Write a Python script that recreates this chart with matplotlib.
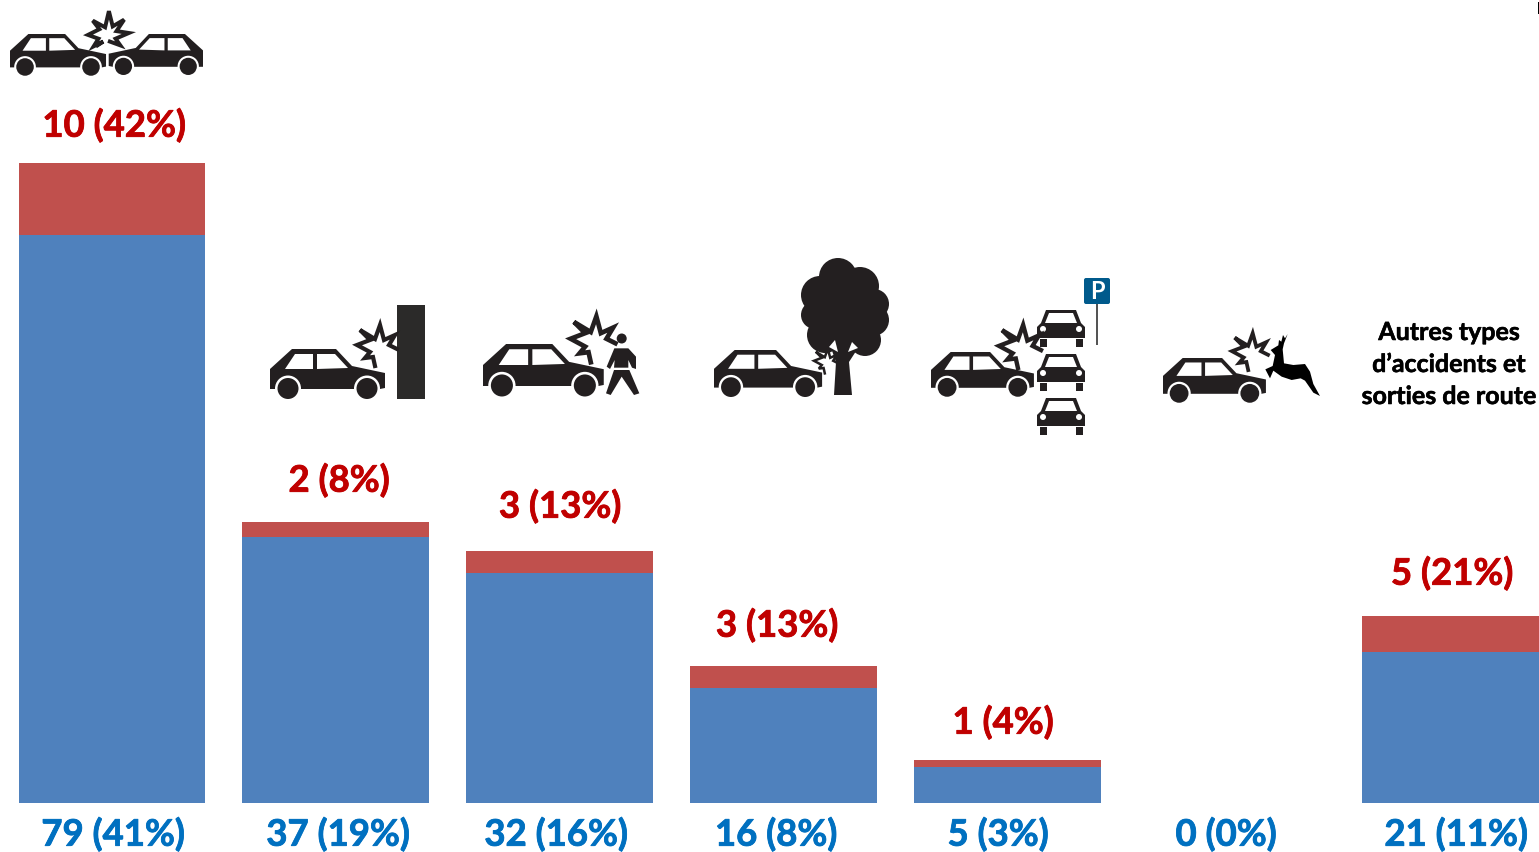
import matplotlib
matplotlib.use("Agg")
import matplotlib.pyplot as plt
import matplotlib.patheffects as pe
from matplotlib.patches import Polygon, Circle, Rectangle, FancyBboxPatch

# valeurs
categories = ["front", "obstacle", "pieton", "arbre", "parking", "animal", "autres"]
bleu = [79, 37, 32, 16, 5, 0, 21]
bleu_pct = [41, 19, 16, 8, 3, 0, 11]
rouge = [10, 2, 3, 3, 1, 0, 5]
rouge_pct = [42, 8, 13, 13, 4, 0, 21]
autres_lignes = ["Autres types", "d’accidents et", "sorties de route"]

NOIR = "#231f20"
plt.rcParams["font.family"] = ["Lato", "DejaVu Sans"]

fig = plt.figure(figsize=(15.39, 8.52), dpi=100)
ax = fig.add_axes([0, 0, 1, 1])
x = list(range(len(categories)))
ax.bar(x, bleu, width=0.835, color="#4F81BD")
ax.bar(x, rouge, width=0.835, bottom=bleu, color="#C0504D")
ax.set_xlim(-0.5002, 6.373)
ax.set_ylim(-6.86, 111.64)
ax.axis("off")

# calque en pixels pour les pictogrammes et les textes
px = fig.add_axes([0, 0, 1, 1])
px.set_xlim(0, 1539)
px.set_ylim(852, 0)
px.axis("off")
px.patch.set_alpha(0)


def car(x0, y0, s=1.0, flip=False):
    def t(pts):
        if flip:
            return [(x0 - a * s, y0 + b * s) for a, b in pts]
        return [(x0 + a * s, y0 + b * s) for a, b in pts]
    body = [(0, 20), (22, 0), (66, 0), (82, 17), (115, 24), (115, 39), (110, 40), (0, 40)]
    px.add_patch(Polygon(t(body), color=NOIR, lw=0))
    px.add_patch(Polygon(t([(15, 20), (25, 5), (43, 5), (43, 20)]), color="white", lw=0))
    px.add_patch(Polygon(t([(47, 5), (65, 5), (78, 19), (47, 20)]), color="white", lw=0))
    for cx in (18, 97):
        c = t([(cx, 39.5)])[0]
        px.add_patch(Circle(c, 13 * s, color="white", lw=0))
        px.add_patch(Circle(c, 10.5 * s, color=NOIR, lw=0))


def burst(cx, cy, s=1.0, pts=None):
    if pts is None:
        pts = [(-2, 19), (-4, 10), (-12, 11), (-7, 5), (-20, -2), (-7, -7), (-17, -17),
               (-2, -8), (3, -22), (7, -7), (18, -12), (12, -2), (20, 2)]
    xs = [cx + a * s for a, b in pts]
    ys = [cy + b * s for a, b in pts]
    px.plot(xs, ys, color=NOIR, lw=3.0 * s, solid_joinstyle="miter")


def zoomed(pts, ox, oy):
    return [(ox + a / 3, oy + b / 3) for a, b in pts]


def front_car(cx, top):
    body = [(-15, 0), (15, 0), (20, 13), (24, 17), (24, 28), (-24, 28), (-24, 17), (-20, 13)]
    px.add_patch(Polygon([(cx + a, top + b) for a, b in body], color=NOIR, lw=0))
    win = [(-12, 3), (12, 3), (16, 13), (-16, 13)]
    px.add_patch(Polygon([(cx + a, top + b) for a, b in win], color="white", lw=0))
    for d in (-18, 18):
        px.add_patch(Circle((cx + d, top + 19), 3, color="white", lw=0))
        px.add_patch(Rectangle((cx + d - 3.5, top + 29), 7, 8, color=NOIR, lw=0))


# choc frontal
car(10, 34, 0.835)
car(203, 34, 0.82, flip=True)
burst(107, 33, 0.95, [(-10, 13), (-4, 9), (-14, 14), (-9, 6), (-20, 2), (-8, -4), (-15, -13),
                      (-2, -6), (2, -23), (6, -7), (18, -14), (10, -2), (23, 0), (9, 6),
                      (14, 13), (3, 9)])

# obstacle
car(270, 349)
px.add_patch(Rectangle((397, 305), 28, 94, color="#2b2a29", lw=0))
burst(377, 347)

# pieton
car(483, 344, 1.05)
burst(593, 341, 1.12)
px.add_patch(Circle((621.7, 338.5), 5, color=NOIR, lw=0))
px.add_patch(Polygon(zoomed([(1063, 160), (1105, 160), (1128, 185), (1128, 222), (1116, 218),
                             (1105, 195), (1105, 218), (1062, 218), (1064, 195), (1050, 222),
                             (1040, 215)], 260, 295), color=NOIR, lw=0))
px.add_patch(Polygon(zoomed([(1062, 225), (1108, 225), (1138, 295), (1122, 300), (1085, 245),
                             (1052, 300), (1038, 295)], 260, 295), color=NOIR, lw=0))

# arbre
car(714, 350, 0.94)
for c, r in [((845, 310), 36), ((838, 277), 19), ((860, 286), 19), ((874, 304), 15),
             ((820, 295), 19), ((815, 315), 14), ((873, 320), 16), ((865, 340), 16),
             ((825, 335), 18), ((845, 330), 20)]:
    px.add_patch(Circle(c, r, color=NOIR, lw=0))
px.add_patch(Polygon([(834, 395), (852, 395), (849, 362), (860, 345), (830, 345), (836, 362)],
                     color=NOIR, lw=0))
for tri in ([(829, 347), (835, 340), (838, 352)], [(852, 342), (848, 352), (858, 348)]):
    px.add_patch(Polygon(tri, color="white", lw=0))
px.add_patch(Circle((826, 362), 9, color="white", lw=0))
burst(826, 362, 0.6)

# parking
car(931, 352, 0.895)
burst(1020, 348, 1.05)
for top in (310, 354, 398):
    front_car(1061, top)
px.add_patch(FancyBboxPatch((1086, 280), 22, 22, boxstyle="round,pad=2", color="#005A8C", lw=0))
px.add_patch(Rectangle((1096, 304), 2, 41, color="#555555", lw=0))
px.text(1097, 291.5, "P", color="white", fontsize=17, fontweight="bold", ha="center", va="center")

# animal
car(1163, 358, 0.895)
burst(1250, 353, 0.9)
px.add_patch(Polygon(zoomed([(362, 120), (385, 106), (387, 90), (394, 95), (399, 75), (405, 85),
                             (413, 72), (402, 100), (398, 118), (402, 160), (430, 165), (465, 162),
                             (480, 185), (490, 222), (510, 258), (490, 248), (465, 212), (452, 205),
                             (425, 210), (395, 200), (370, 182), (360, 205), (346, 178), (368, 168),
                             (375, 135)], 1150, 310), color="black", lw=0))

# texte autres types
for ligne, y in zip(autres_lignes, [332.5, 364.5, 396.5]):
    px.text(1449, y, ligne, color="black", fontsize=18, fontweight="bold", ha="center", va="center",
            path_effects=[pe.withStroke(linewidth=0.4, foreground="black")])

# etiquettes
pos_rouge = [(114, 125.5), (339, 480.5), (560, 506.5), (777, 625.5), (1003, 722.5), None, (1452, 573.5)]
pos_bleu = [113, 338, 556, 776, 998, 1226, 1456]
for i in x:
    if pos_rouge[i] is not None:
        px.text(pos_rouge[i][0], pos_rouge[i][1], f"{rouge[i]} ({rouge_pct[i]}%)", color="#C00000",
                fontsize=26.3, fontweight="bold", ha="center", va="center",
                path_effects=[pe.withStroke(linewidth=0.6, foreground="#C00000")])
    px.text(pos_bleu[i], 834.5, f"{bleu[i]} ({bleu_pct[i]}%)", color="#0070C0",
            fontsize=26.3, fontweight="bold", ha="center", va="center",
            path_effects=[pe.withStroke(linewidth=0.6, foreground="#0070C0")])

# petit trait en haut a droite
px.add_patch(Rectangle((1537.5, 2), 1.5, 12, color="black", lw=0))

fig.savefig("out.png", dpi=100)
